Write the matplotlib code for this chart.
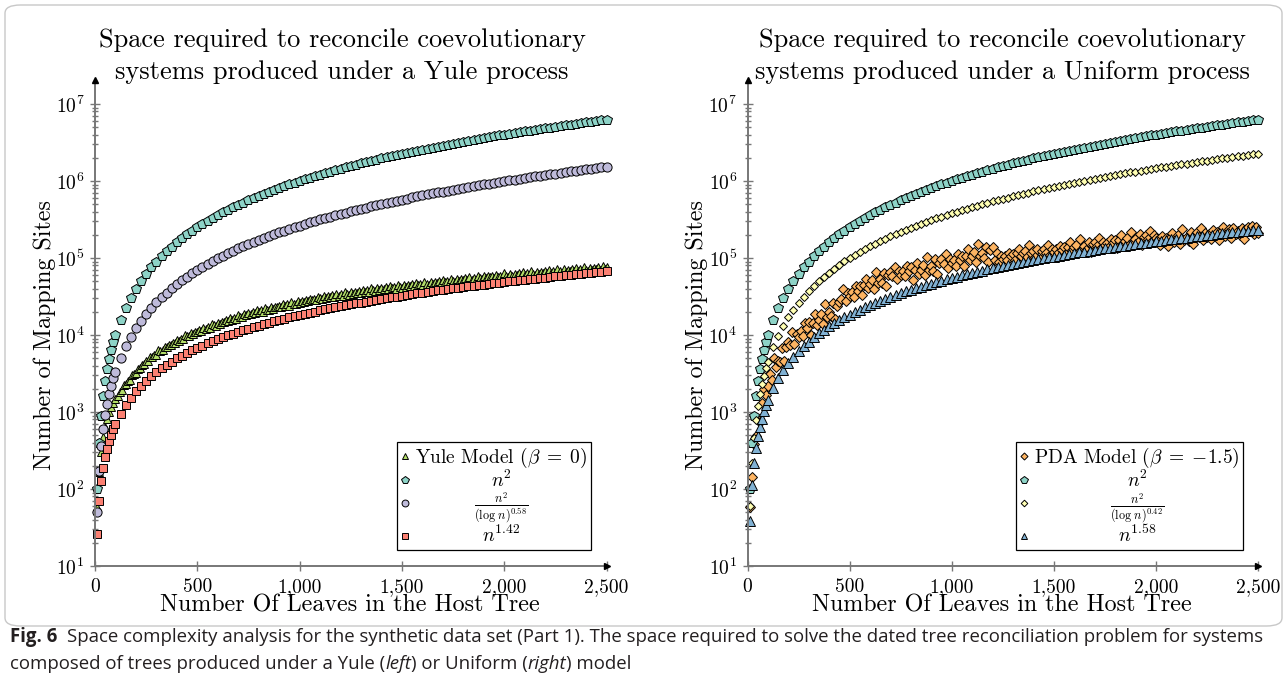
import math
import matplotlib
matplotlib.use("Agg")
import matplotlib.pyplot as plt
from matplotlib.lines import Line2D
from matplotlib.patches import FancyBboxPatch
import matplotlib.transforms as mtransforms
from matplotlib.ticker import FixedLocator, FuncFormatter, NullFormatter

plt.rcParams['mathtext.fontset'] = 'cm'
plt.rcParams['font.family'] = ['cmr10']
plt.rcParams['axes.unicode_minus'] = False
plt.rcParams['axes.formatter.use_mathtext'] = True

# ---------------- data ----------------
# reference curves (sampled every 25 leaves beyond 100)
leaves = [10, 20, 30, 40, 50, 60, 70, 80, 90, 100,
          125, 150, 175, 200, 225, 250, 275, 300, 325, 350,
          375, 400, 425, 450, 475, 500, 525, 550, 575, 600,
          625, 650, 675, 700, 725, 750, 775, 800, 825, 850,
          875, 900, 925, 950, 975, 1000, 1025, 1050, 1075, 1100,
          1125, 1150, 1175, 1200, 1225, 1250, 1275, 1300, 1325, 1350,
          1375, 1400, 1425, 1450, 1475, 1500, 1525, 1550, 1575, 1600,
          1625, 1650, 1675, 1700, 1725, 1750, 1775, 1800, 1825, 1850,
          1875, 1900, 1925, 1950, 1975, 2000, 2025, 2050, 2075, 2100,
          2125, 2150, 2175, 2200, 2225, 2250, 2275, 2300, 2325, 2350,
          2375, 2400, 2425, 2450, 2475, 2500]

n_squared = [100, 400, 900, 1600, 2500, 3600, 4900, 6400, 8100, 10000,
             15625, 22500, 30625, 40000, 50625, 62500, 75625, 90000, 105625, 122500,
             140625, 160000, 180625, 202500, 225625, 250000, 275625, 302500, 330625, 360000,
             390625, 422500, 455625, 490000, 525625, 562500, 600625, 640000, 680625, 722500,
             765625, 810000, 855625, 902500, 950625, 1000000, 1050625, 1102500, 1155625, 1210000,
             1265625, 1322500, 1380625, 1440000, 1500625, 1562500, 1625625, 1690000, 1755625, 1822500,
             1890625, 1960000, 2030625, 2102500, 2175625, 2250000, 2325625, 2402500, 2480625, 2560000,
             2640625, 2722500, 2805625, 2890000, 2975625, 3062500, 3150625, 3240000, 3330625, 3422500,
             3515625, 3610000, 3705625, 3802500, 3900625, 4000000, 4100625, 4202500, 4305625, 4410000,
             4515625, 4622500, 4730625, 4840000, 4950625, 5062500, 5175625, 5290000, 5405625, 5522500,
             5640625, 5760000, 5880625, 6002500, 6125625, 6250000]

n2_log058 = [49.8, 171.1, 357.7, 606.7, 916.2, 1285, 1712, 2196, 2737, 3334,
             5069, 7143, 9553, 12295, 15364, 18757, 22472, 26506, 30856, 35524,
             40504, 45796, 51398, 57311, 63527, 70055, 76887, 84021, 91462, 99198,
             107245, 115584, 124229, 133175, 142413, 151950, 161782, 171913, 182336, 193065,
             204079, 215389, 226988, 238879, 251067, 263549, 276318, 289379, 302733, 316370,
             330304, 344522, 359031, 373818, 388916, 404268, 419932, 435864, 452106, 468604,
             485413, 502500, 519868, 537532, 555472, 573699, 592207, 610983, 630058, 649416,
             669042, 688951, 709148, 729664, 750431, 771471, 792789, 814398, 836270, 858452,
             880913, 903632, 926642, 949912, 973488, 997330, 1021460, 1045830, 1070540, 1095490,
             1120735, 1146233, 1172050, 1198068, 1224420, 1251012, 1277913, 1305127, 1332552, 1360282,
             1388195, 1416534, 1445066, 1473945, 1502970, 1532400]

n_pow142 = [26.3, 70.4, 125.2, 188.3, 258.5, 334.9, 416.9, 504.0, 595.7, 691.8,
            949.8, 1230, 1532, 1851, 2188, 2541, 2910, 3292, 3689, 4098,
            4520, 4954, 5399, 5855, 6323, 6800, 7288, 7786, 8293, 8810,
            9336, 9870, 10414, 10966, 11526, 12095, 12671, 13255, 13847, 14447,
            15054, 15668, 16290, 16918, 17554, 18197, 18846, 19503, 20165, 20833,
            21509, 22192, 22880, 23574, 24275, 24981, 25694, 26412, 27136, 27865,
            28601, 29342, 30089, 30842, 31599, 32363, 33132, 33905, 34685, 35469,
            36259, 37053, 37852, 38657, 39468, 40283, 41102, 41926, 42754, 43590,
            44429, 45272, 46120, 46972, 47831, 48691, 49560, 50430, 51306, 52186,
            53070, 53959, 54852, 55749, 56651, 57557, 58467, 59383, 60300, 61224,
            62150, 63081, 64016, 64956, 65898, 66846]

n2_log042 = [60.4, 216.3, 461.4, 792.8, 1209, 1707, 2288, 2950, 3692, 4514,
             6915, 9803, 13174, 17024, 21348, 26143, 31407, 37136, 43329, 49984,
             57099, 64670, 72699, 81179, 90118, 99507, 109347, 119635, 130374, 141560,
             153194, 165267, 177790, 190762, 204174, 218013, 232316, 247053, 262226, 277841,
             293900, 310394, 327317, 344690, 362495, 380745, 399401, 418522, 438077, 458040,
             478454, 499310, 520598, 542306, 564454, 587013, 610014, 633446, 657327, 681598,
             706308, 731497, 757064, 783097, 809498, 836388, 863672, 891371, 919533, 948119,
             977089, 1006514, 1036358, 1066670, 1097371, 1128501, 1160037, 1191960, 1224384, 1257192,
             1290484, 1324106, 1358210, 1392650, 1427664, 1462995, 1498785, 1534977, 1571600, 1608640,
             1646080, 1683986, 1722253, 1760976, 1800166, 1839672, 1879729, 1920102, 1960830, 2002164,
             2043755, 2085784, 2128329, 2171331, 2214542, 2258278]

n_pow158 = [38.0, 113.7, 215.7, 339.8, 483.5, 644.9, 822.7, 1016, 1224, 1445,
            2056, 2743, 3499, 4321, 5205, 6148, 7147, 8201, 9306, 10462,
            11667, 12920, 14219, 15562, 16950, 18381, 19854, 21368, 22923, 24518,
            26151, 27822, 29532, 31280, 33063, 34881, 36735, 38627, 40550, 42509,
            44502, 46526, 48584, 50675, 52797, 54954, 57141, 59358, 61606, 63885,
            66195, 68533, 70902, 73299, 75729, 78185, 80668, 83182, 85725, 88292,
            90889, 93515, 96166, 98845, 101552, 104284, 107046, 109831, 112642, 115481,
            118343, 121232, 124149, 127091, 130057, 133046, 136062, 139097, 142163, 145256,
            148368, 151503, 154669, 157851, 161064, 164296, 167555, 170828, 174136, 177466,
            180814, 184189, 187583, 190996, 194440, 197898, 201386, 204895, 208414, 211976,
            215546, 219144, 222763, 226405, 230058, 233742]

# simulated systems (every 10 leaves)
leaves_sim = [10, 20, 30, 40, 50, 60, 70, 80, 90, 100,
              110, 120, 130, 140, 150, 160, 170, 180, 190, 200,
              210, 220, 230, 240, 250, 260, 270, 280, 290, 300,
              310, 320, 330, 340, 350, 360, 370, 380, 390, 400,
              410, 420, 430, 440, 450, 460, 470, 480, 490, 500,
              510, 520, 530, 540, 550, 560, 570, 580, 590, 600,
              610, 620, 630, 640, 650, 660, 670, 680, 690, 700,
              710, 720, 730, 740, 750, 760, 770, 780, 790, 800,
              810, 820, 830, 840, 850, 860, 870, 880, 890, 900,
              910, 920, 930, 940, 950, 960, 970, 980, 990, 1000,
              1010, 1020, 1030, 1040, 1050, 1060, 1070, 1080, 1090, 1100,
              1110, 1120, 1130, 1140, 1150, 1160, 1170, 1180, 1190, 1200,
              1210, 1220, 1230, 1240, 1250, 1260, 1270, 1280, 1290, 1300,
              1310, 1320, 1330, 1340, 1350, 1360, 1370, 1380, 1390, 1400,
              1410, 1420, 1430, 1440, 1450, 1460, 1470, 1480, 1490, 1500,
              1510, 1520, 1530, 1540, 1550, 1560, 1570, 1580, 1590, 1600,
              1610, 1620, 1630, 1640, 1650, 1660, 1670, 1680, 1690, 1700,
              1710, 1720, 1730, 1740, 1750, 1760, 1770, 1780, 1790, 1800,
              1810, 1820, 1830, 1840, 1850, 1860, 1870, 1880, 1890, 1900,
              1910, 1920, 1930, 1940, 1950, 1960, 1970, 1980, 1990, 2000,
              2010, 2020, 2030, 2040, 2050, 2060, 2070, 2080, 2090, 2100,
              2110, 2120, 2130, 2140, 2150, 2160, 2170, 2180, 2190, 2200,
              2210, 2220, 2230, 2240, 2250, 2260, 2270, 2280, 2290, 2300,
              2310, 2320, 2330, 2340, 2350, 2360, 2370, 2380, 2390, 2400,
              2410, 2420, 2430, 2440, 2450, 2460, 2470, 2480, 2490, 2500]

yule_model = [58, 165, 306, 470, 645, 821, 1001, 1159, 1311, 1467,
              1632, 1837, 1928, 2221, 2288, 2548, 2630, 3059, 3113, 3239,
              3657, 3723, 4090, 4235, 4599, 4632, 5182, 5140, 5540, 5531,
              6291, 6199, 6302, 6944, 6885, 7396, 7485, 7974, 7865, 8670,
              8437, 8963, 8795, 9903, 9602, 9629, 10515, 10282, 10945, 10948,
              11589, 11317, 12418, 11971, 12652, 12317, 13836, 13318, 13274, 14448,
              14044, 14899, 14835, 15623, 15150, 16563, 15859, 16693, 16150, 18094,
              17311, 17167, 18636, 18014, 19050, 18882, 19826, 19131, 20873, 19883,
              20872, 20098, 22499, 21424, 21165, 22946, 22086, 23312, 23025, 24129,
              23191, 25284, 23984, 25134, 24108, 26994, 25600, 25216, 27323, 26204,
              27629, 27213, 28484, 27282, 29742, 28109, 29427, 28133, 31526, 29791,
              29270, 31719, 30325, 31956, 31402, 32847, 31361, 34206, 32218, 33711,
              32131, 36056, 33961, 33293, 36098, 34412, 36257, 35553, 37176, 35392,
              38636, 36276, 37948, 36066, 40544, 38071, 37245, 40420, 38427, 40492,
              39630, 41437, 39341, 43000, 40249, 42108, 39908, 44961, 42091, 41101,
              44660, 42344, 44637, 43606, 45602, 43182, 47270, 44109, 46159, 43627,
              49312, 46065, 44940, 48931, 46316, 48884, 47718, 49949, 47229, 51800,
              48258, 50546, 47715, 54021, 50354, 49057, 53465, 50511, 53326, 51988,
              54427, 51361, 56397, 52425, 54923, 51744, 58690, 54588, 53113, 57948,
              54642, 57713, 56196, 58848, 55427, 60943, 56524, 59236, 55696, 63298,
              58749, 57090, 62366, 58696, 62029, 60327, 63198, 59410, 65415, 60536,
              63468, 59558, 67838, 62823, 60974, 66700, 62655, 66257, 64363, 67456,
              63292, 69798, 64447, 67603, 63313, 72285, 66795, 64750, 70937, 66509,
              70386, 68293, 71614, 67061, 74081, 68246, 71632, 66950, 76630, 70651,
              68404, 75063, 70238, 74395, 72101, 75656, 70704, 78249, 71917, 75536]

pda_model = [59, 142, 389, 493, 799, 742, 1317, 1981, 1652, 2168,
             3108, 2606, 5037, 3813, 4663, 4401, 6680, 4563, 6983, 8210,
             7472, 10793, 7546, 10368, 9529, 11118, 9730, 14352, 12448, 14762,
             9936, 14528, 18584, 13487, 15690, 18598, 13704, 25607, 17374, 20026,
             17472, 25826, 15939, 24032, 27230, 28998, 39175, 27568, 35600, 32165,
             36043, 31296, 43344, 37368, 42740, 32985, 44090, 53452, 40596, 45362,
             51599, 40021, 66200, 47513, 52858, 47025, 64218, 43326, 59631, 65688,
             57582, 76845, 53488, 68300, 61040, 67678, 58176, 79787, 68166, 77260,
             51220, 70298, 85974, 62580, 70142, 80124, 59535, 103293, 70866, 79101,
             68658, 96340, 61250, 87220, 96292, 82432, 112596, 74508, 97362, 85173,
             94894, 79380, 112281, 93552, 106848, 78338, 107030, 130326, 94455, 105419,
             119899, 88736, 153318, 104780, 116501, 100746, 140860, 89225, 126595, 139270,
             94694, 116622, 89559, 106150, 97738, 104914, 94200, 117697, 104780, 114373,
             94725, 115034, 131516, 106894, 114777, 125062, 103926, 148541, 115575, 123914,
             104038, 131505, 96700, 122213, 130976, 117418, 146465, 109758, 131567, 119922,
             129091, 114477, 145260, 127734, 140033, 113724, 140100, 161324, 128633, 138576,
             145775, 117770, 175407, 132088, 142445, 128520, 163730, 118503, 151092, 162040,
             144315, 181244, 133916, 161516, 146355, 157744, 138847, 177671, 155115, 170398,
             136812, 169860, 196323, 154822, 167049, 183125, 147740, 219760, 165275, 178013,
             160409, 204090, 147535, 187896, 201259, 179021, 224588, 165753, 199675, 180730,
             169740, 146038, 193442, 165282, 183642, 142024, 182144, 214130, 162920, 177470,
             196691, 153128, 240474, 173698, 188795, 166995, 219619, 150616, 199112, 214875,
             187561, 242188, 170739, 211248, 188005, 204272, 175604, 232404, 198403, 220268,
             170206, 218106, 256184, 194759, 211980, 234740, 182606, 248710, 206815, 224619,
             198531, 244244, 178792, 236198, 254711, 222173, 256850, 201950, 249690, 210366]

x_ticks = [0, 500, 1000, 1500, 2000, 2500]
y_major = [1e1, 1e2, 1e3, 1e4, 1e5, 1e6, 1e7]

titles = [["Space required to reconcile coevolutionary",
           "systems produced under a Yule process"],
          ["Space required to reconcile coevolutionary",
           "systems produced under a Uniform process"]]
x_label = "Number Of Leaves in the Host Tree"
y_label = "Number of Mapping Sites"

left_labels = [r"Yule Model ($\beta\;=\;0$)", r"$n^2$",
               r"$\frac{n^2}{(\log\, n)^{0.58}}$", r"$n^{1.42}$"]
right_labels = [r"PDA Model ($\beta\;=\;{-1.5}$)", r"$n^2$",
                r"$\frac{n^2}{(\log\, n)^{0.42}}$", r"$n^{1.58}$"]

# ---------------- figure ----------------
W, H = 1287, 685
fig = plt.figure(figsize=(W / 100, H / 100), dpi=100)

AX_COLOR = '#777777'
AX_TOP, AX_BOTTOM = 80, 566
DECADE_PX = 77.0
YTOP = 10 ** (1 + (AX_BOTTOM - AX_TOP) / DECADE_PX)

border = FancyBboxPatch((5 / W, 1 - 626 / H), (W - 10) / W, (626 - 5) / H,
                        boxstyle="round,pad=0,rounding_size=0.012",
                        transform=fig.transFigure, facecolor='none',
                        edgecolor='#c8c8c8', linewidth=1.0)
fig.patches.append(border)


def make_axes(left_px, right_px):
    ax = fig.add_axes([left_px / W, 1 - AX_BOTTOM / H,
                       (right_px - left_px) / W, (AX_BOTTOM - AX_TOP) / H])
    ax.set_yscale('log')
    ax.set_xlim(0, 2500)
    ax.set_ylim(10, YTOP)
    ax.patch.set_alpha(0)
    for s in ['top', 'right']:
        ax.spines[s].set_visible(False)
    for s in ['left', 'bottom']:
        ax.spines[s].set_color(AX_COLOR)
        ax.spines[s].set_linewidth(1.4)
    ax.xaxis.set_major_locator(FixedLocator(x_ticks))
    ax.xaxis.set_major_formatter(FuncFormatter(lambda v, p: f"{int(v):,}"))
    ax.xaxis.set_minor_locator(FixedLocator([]))
    ax.yaxis.set_major_locator(FixedLocator(y_major))
    ax.yaxis.set_major_formatter(
        FuncFormatter(lambda v, p: r"$10^{%d}$" % round(math.log10(v))))
    minors = [m * 10 ** e for e in range(1, 7) for m in range(2, 10)]
    ax.yaxis.set_minor_locator(FixedLocator(minors))
    ax.yaxis.set_minor_formatter(NullFormatter())
    ax.tick_params(which='both', direction='inout', color=AX_COLOR, width=1.0)
    ax.tick_params(which='major', length=7, labelsize=14, pad=4)
    ax.tick_params(axis='x', which='major', pad=5)
    ax.tick_params(which='minor', length=4)
    ax.plot([1.0], [0.0], marker='>', color='black', ms=4.5, transform=ax.transAxes,
            clip_on=False, zorder=5)
    ax.plot([0.0], [1.0], marker='^', color='black', ms=4.5, transform=ax.transAxes,
            clip_on=False, zorder=5)
    return ax


axL = make_axes(95, 606.6)
axR = make_axes(747.5, 1258)

MEW = 0.7


def series(ax, x, y, marker, color, ms):
    h, = ax.plot(x, y, ls='none', marker=marker, mfc=color, mec='black',
                 mew=MEW, ms=ms, clip_on=False)
    return h


hL = [series(axL, leaves_sim, yule_model, '^', '#b3de69', 6.0),
      series(axL, leaves, n_squared, 'p', '#8dd3c7', 7.2),
      series(axL, leaves, n2_log058, 'o', '#bebada', 6.6),
      series(axL, leaves, n_pow142, 's', '#fb8072', 6.2)]
hR = [series(axR, leaves_sim, pda_model, 'D', '#fdb462', 4.8),
      series(axR, leaves, n_squared, 'p', '#8dd3c7', 7.2),
      series(axR, leaves, n2_log042, 'D', '#ffffb3', 4.5),
      series(axR, leaves, n_pow158, '^', '#80b1d3', 6.6)]


def legend_handles(hs):
    out = []
    for h in hs:
        out.append(Line2D([], [], ls='none', marker=h.get_marker(), mfc=h.get_mfc(),
                          mec='black', mew=MEW, ms=h.get_markersize() * 0.75))
    return out


def add_legend(ax, hs, labels, right_in_px, bottom_in_px, ax_w_px):
    ax_h_px = AX_BOTTOM - AX_TOP
    leg = ax.legend(legend_handles(hs), labels, loc='lower right',
                    bbox_to_anchor=(1 - right_in_px / ax_w_px, bottom_in_px / ax_h_px),
                    borderaxespad=0, fancybox=False, framealpha=1, edgecolor='black',
                    fontsize=14, handlelength=0.45, handletextpad=0.3,
                    borderpad=0.18, labelspacing=0.0)
    leg.get_frame().set_linewidth(0.9)
    leg.get_texts()[2].set_fontsize(12.5)
    return leg


legL = add_legend(axL, hL, left_labels, 15.6, 16, 511.6)
legR = add_legend(axR, hR, right_labels, 14.7, 16, 510.5)

# titles and axis labels
for cx, lines in [(342, titles[0]), (1002, titles[1])]:
    fig.text(cx / W, 1 - 40 / H, lines[0], ha='center', va='center', fontsize=19)
    fig.text(cx / W, 1 - 72 / H, lines[1], ha='center', va='center', fontsize=19)
for cx in [350, 1002]:
    fig.text(cx / W, 1 - 605 / H, x_label, ha='center', va='center', fontsize=17.3)
for cx in [45, 697]:
    fig.text(cx / W, 1 - 335 / H, y_label, ha='center', va='center', fontsize=17.3,
             rotation=90)

# center the legend labels (first label spans full width)
fig.canvas.draw()
renderer = fig.canvas.get_renderer()
for leg in [legL, legR]:
    texts = leg.get_texts()
    b0 = texts[0].get_window_extent(renderer)
    cx = (b0.x0 + b0.x1) / 2
    for t in texts[1:]:
        b = t.get_window_extent(renderer)
        dx = cx - (b.x0 + b.x1) / 2
        t.set_transform(t.get_transform() + mtransforms.Affine2D().translate(dx, 0))

# caption
CAP_FONT = ['Open Sans', 'DejaVu Sans']
CAP_SIZE = 13.4


def place_runs(x_px, y_px, runs):
    x = x_px
    for s, weight, style, gap in runs:
        t = fig.text(x / W, 1 - y_px / H, s, fontsize=CAP_SIZE, family=CAP_FONT,
                     weight=weight, style=style, ha='left', va='baseline', color='#231f20')
        b = t.get_window_extent(renderer)
        x += b.width + gap


place_runs(10, 642, [("Fig. 6", 'bold', 'normal', 10),
                     ("Space complexity analysis for the synthetic data set (Part 1). The space "
                      "required to solve the dated tree reconciliation problem for systems",
                      'normal', 'normal', 0)])
place_runs(10, 669, [("composed of trees produced under a Yule (", 'normal', 'normal', 0),
                     ("left", 'normal', 'italic', 0),
                     (") or Uniform (", 'normal', 'normal', 0),
                     ("right", 'normal', 'italic', 0),
                     (") model", 'normal', 'normal', 0)])

fig.savefig("out.png", dpi=100)
